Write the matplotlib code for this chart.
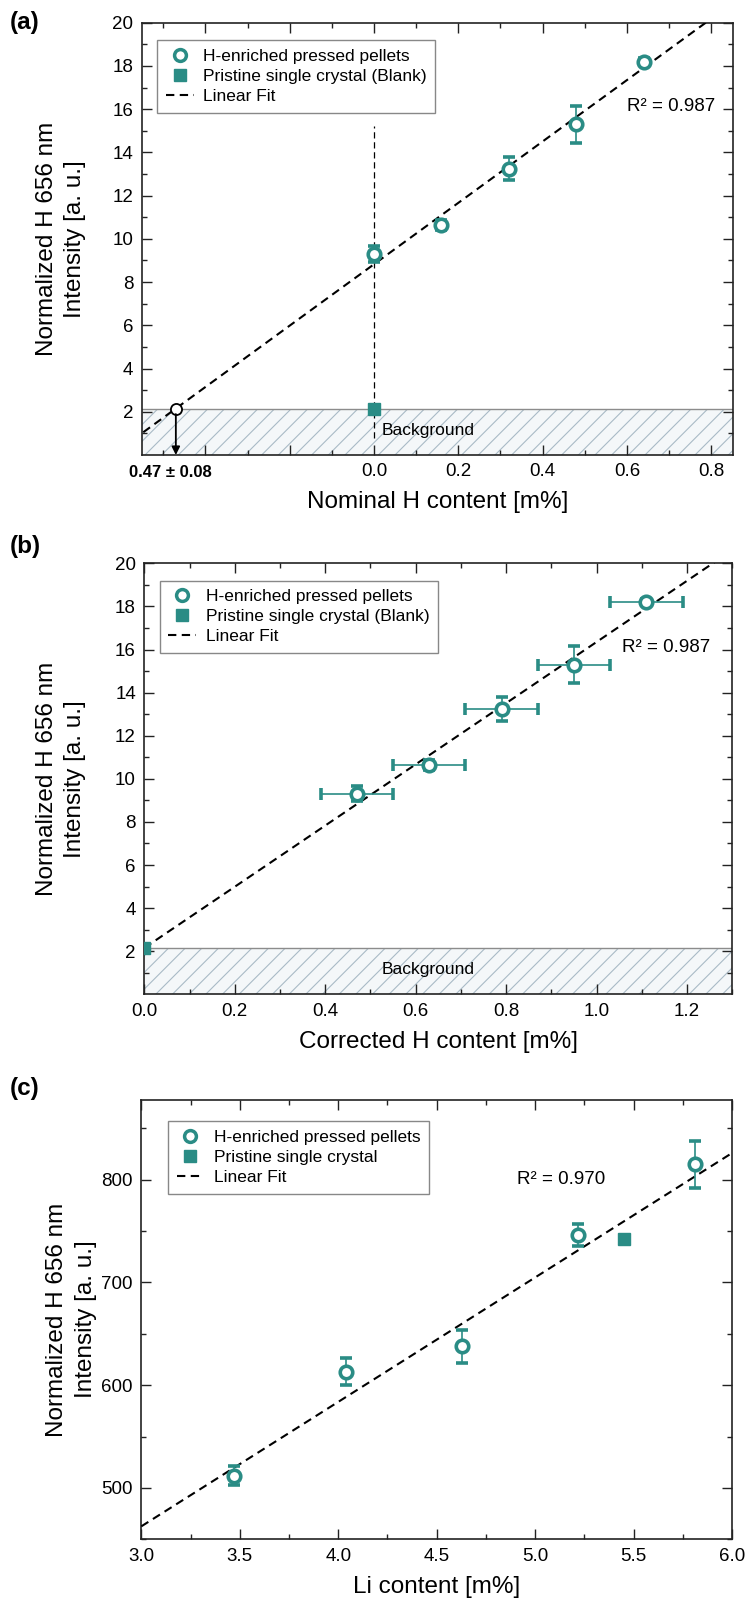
import numpy as np
import matplotlib
matplotlib.use("Agg")
import matplotlib.pyplot as plt
from matplotlib.ticker import FixedLocator, MultipleLocator, FuncFormatter, FormatStrFormatter
from matplotlib.lines import Line2D
from matplotlib.transforms import blended_transform_factory

plt.rcParams["font.family"] = ["Liberation Sans", "DejaVu Sans"]
plt.rcParams["hatch.linewidth"] = 0.8

TEAL = "#2a8c85"

# ---- H calibration data (panels a, b) ----
nominal_h = [0.0, 0.16, 0.32, 0.48, 0.64]
h_intensity = [9.3, 10.65, 13.25, 15.3, 18.2]
h_intensity_err = [0.35, 0.22, 0.55, 0.85, 0.15]
blank_intensity = 2.15
h_offset = 0.47
h_offset_err = 0.08
h_fit_slope = 14.2
h_r2 = 0.987

# ---- Li data (panel c) ----
li_content = [3.47, 4.04, 4.63, 5.22, 5.81]
li_intensity = [512, 613, 638, 746, 815]
li_intensity_err = [9, 13, 16, 11, 23]
li_blank_x = 5.45
li_blank_y = 742
li_fit_slope = 121.1
li_fit_intercept = 99.3
li_r2 = 0.970

FS_TICK = 13.5
FS_LABEL = 17.5
FS_LEG = 12.5
DASH = (0, (4, 2.6))

fig = plt.figure(figsize=(7.51, 16.07), dpi=100)
W, H = 751.0, 1607.0


def add_axes_px(left, top, right, bottom):
    return fig.add_axes([left / W, 1 - bottom / H, (right - left) / W, (bottom - top) / H])


def style_axes(ax):
    for s in ax.spines.values():
        s.set_linewidth(1.2)
        s.set_color("#222222")
    ax.tick_params(which="both", direction="in", top=True, right=True,
                   labelsize=FS_TICK, width=1.0, color="#222222")
    ax.tick_params(which="major", length=7, pad=6)
    ax.tick_params(which="minor", length=3.5)


def ylabel(ax, xpos):
    ax.set_ylabel("Normalized H 656 nm\nIntensity [a. u.]", fontsize=FS_LABEL,
                  linespacing=1.4, va="center")
    ax.yaxis.set_label_coords(xpos, 0.5)


def legend(ax, anchor, blank_label):
    handles = [
        Line2D([], [], marker="o", ls="none", mfc="white", mec=TEAL, mew=2.5, ms=8.5),
        Line2D([], [], marker="s", ls="none", color=TEAL, ms=8.5),
        Line2D([], [], color="k", ls=DASH, lw=1.5),
    ]
    labels = ["H-enriched pressed pellets", blank_label, "Linear Fit"]
    leg = ax.legend(handles, labels, loc="upper left", bbox_to_anchor=anchor,
                    borderaxespad=0, fontsize=FS_LEG, frameon=True, fancybox=False,
                    framealpha=1, edgecolor="#888888", handlelength=1.6,
                    handletextpad=0.55, labelspacing=0.28, borderpad=0.5)
    leg.get_frame().set_linewidth(1.0)


def background(ax, x0, x1, text_x):
    ax.fill_between([x0, x1], 0, blank_intensity, facecolor="#f4f7f9",
                    edgecolor="#a9bac6", hatch="//", lw=0, zorder=0)
    ax.axhline(blank_intensity, color="#8c8c8c", lw=1.0, zorder=1)
    ax.text(text_x, 1.15, "Background", fontsize=FS_LEG, va="center", zorder=2)


def pellet_points(ax, x, xerr=None):
    ax.errorbar(x, h_intensity, yerr=h_intensity_err, xerr=xerr, fmt="o",
                mfc="white", mec=TEAL, mew=2.6, ms=9, ecolor=TEAL,
                elinewidth=1.2, capsize=4, capthick=1.2, zorder=4)


h_intercept = blank_intensity + h_offset * h_fit_slope

# ================= (a) =================
axa = add_axes_px(141.7, 22.7, 732.7, 455.0)
style_axes(axa)
axa.set_xlim(-0.551, 0.851)
axa.set_ylim(0, 20)
background(axa, -0.551, 0.851, 0.017)
xa = np.array([-0.6, 0.9])
axa.plot(xa, h_intercept + h_fit_slope * xa, color="k", ls=DASH, lw=1.5, zorder=3)
axa.plot([0, 0], [0.8, 15.2], color="k", ls=(0, (5, 3)), lw=0.9, zorder=2)
pellet_points(axa, nominal_h)
axa.plot(0, blank_intensity, "s", color=TEAL, ms=9, zorder=5)
axa.plot(-h_offset, blank_intensity, "o", mfc="white", mec="k", ms=8, mew=1.3, zorder=5)
axa.annotate("", xy=(-h_offset, 0), xytext=(-h_offset, blank_intensity),
             arrowprops=dict(arrowstyle="-|>", color="k", lw=1.3,
                             mutation_scale=12, shrinkA=4, shrinkB=0), zorder=5)
tr = blended_transform_factory(axa.transData, axa.transAxes)
axa.text(-h_offset - 0.014, -0.022, f"{h_offset:.2f} ± {h_offset_err:.2f}",
         transform=tr, ha="center", va="top", fontsize=12, fontweight="bold")
axa.text(0.6, 16.1, f"R² = {h_r2:.3f}", fontsize=13.5, va="center")
axa.xaxis.set_major_locator(FixedLocator([-0.4, -0.2, 0.0, 0.2, 0.4, 0.6, 0.8]))
axa.xaxis.set_minor_locator(FixedLocator([-0.5, -0.3, -0.1, 0.1, 0.3, 0.5, 0.7]))
axa.xaxis.set_major_formatter(FuncFormatter(lambda v, p: f"{abs(v):.1f}" if v > -0.05 else ""))
axa.yaxis.set_major_locator(FixedLocator(list(range(2, 21, 2))))
axa.yaxis.set_minor_locator(FixedLocator(list(range(1, 20, 2))))
axa.set_xlabel("Nominal H content [m%]", fontsize=FS_LABEL, labelpad=8)
ylabel(axa, -0.1366)
legend(axa, (0.026, 0.96), "Pristine single crystal (Blank)")

# ================= (b) =================
axb = add_axes_px(144.3, 563.3, 732.3, 994.3)
style_axes(axb)
axb.set_xlim(0, 1.3)
axb.set_ylim(0, 20)
background(axb, 0, 1.3, 0.524)
corrected_h = [v + h_offset for v in nominal_h]
xb = np.array([0.0, 1.4])
axb.plot(xb, h_intercept + h_fit_slope * (xb - h_offset), color="k", ls=DASH, lw=1.5, zorder=3)
pellet_points(axb, corrected_h, xerr=h_offset_err)
axb.plot(0, blank_intensity, "s", color=TEAL, ms=9, zorder=5)
axb.text(1.057, 16.1, f"R² = {h_r2:.3f}", fontsize=13.5, va="center")
axb.xaxis.set_major_locator(MultipleLocator(0.2))
axb.xaxis.set_minor_locator(MultipleLocator(0.1))
axb.xaxis.set_major_formatter(FormatStrFormatter("%.1f"))
axb.yaxis.set_major_locator(FixedLocator(list(range(2, 21, 2))))
axb.yaxis.set_minor_locator(FixedLocator(list(range(1, 20, 2))))
axb.set_xlabel("Corrected H content [m%]", fontsize=FS_LABEL, labelpad=8)
ylabel(axb, (61 - 144.3) / 588.0)
legend(axb, (0.026, 0.96), "Pristine single crystal (Blank)")

# ================= (c) =================
axc = add_axes_px(141.3, 1099.5, 732.0, 1539.3)
style_axes(axc)
axc.set_xlim(3.0, 6.0)
axc.set_ylim(450, 878)
xc = np.array([3.0, 6.0])
axc.plot(xc, li_fit_intercept + li_fit_slope * xc, color="k", ls=DASH, lw=1.5, zorder=3)
axc.errorbar(li_content, li_intensity, yerr=li_intensity_err, fmt="o",
             mfc="white", mec=TEAL, mew=2.6, ms=9, ecolor=TEAL,
             elinewidth=1.2, capsize=4, capthick=1.2, zorder=4)
axc.plot(li_blank_x, li_blank_y, "s", color=TEAL, ms=9, zorder=5)
axc.text(4.91, 800, f"R² = {li_r2:.3f}", fontsize=13.5, va="center")
axc.xaxis.set_major_locator(MultipleLocator(0.5))
axc.xaxis.set_minor_locator(MultipleLocator(0.25))
axc.xaxis.set_major_formatter(FormatStrFormatter("%.1f"))
axc.yaxis.set_major_locator(MultipleLocator(100))
axc.yaxis.set_minor_locator(MultipleLocator(50))
axc.set_xlabel("Li content [m%]", fontsize=FS_LABEL, labelpad=8)
ylabel(axc, -0.118)
legend(axc, (0.045, 0.95), "Pristine single crystal")

# panel tags
for tag, ypx in [("(a)", 22), ("(b)", 546), ("(c)", 1088)]:
    fig.text(10 / W, 1 - ypx / H, tag, fontsize=17.5, fontweight="bold", va="center", ha="left")

fig.savefig("out.png", dpi=100)
